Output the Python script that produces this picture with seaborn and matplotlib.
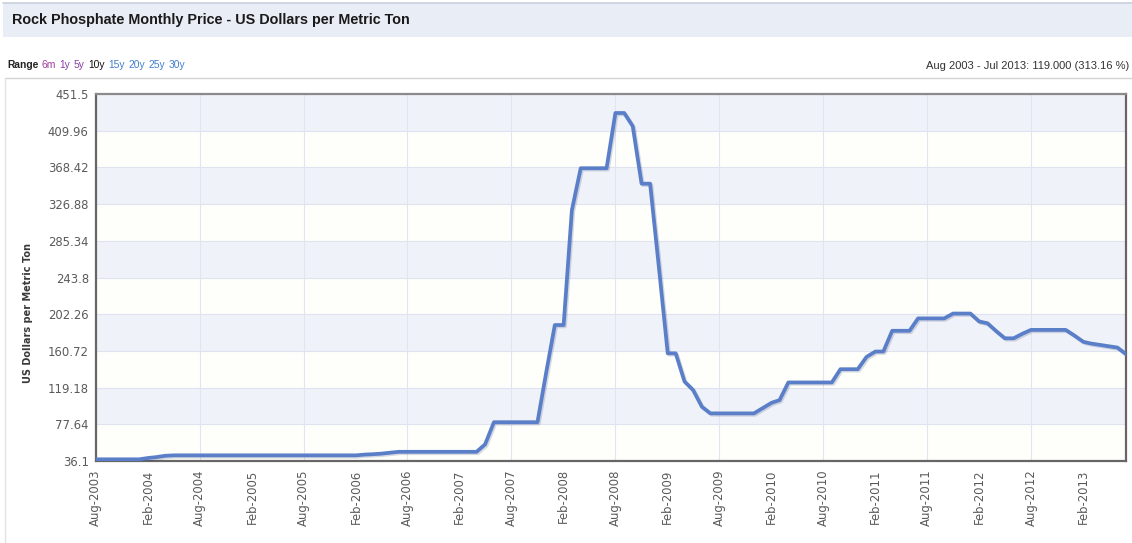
import numpy as np
import pandas as pd
import matplotlib
matplotlib.use("Agg")
import matplotlib.pyplot as plt
import matplotlib.dates as mdates
import matplotlib.patheffects as pe
from matplotlib.patches import Rectangle
import seaborn as sns

# Monthly rock phosphate price, Aug 2003 - Jul 2013 (US$ per metric ton)
months = pd.date_range("2003-08-01", "2013-07-01", freq="MS")
price = (
    [38.0] * 6
    + [39.5, 40.5, 42.0]
    + [42.5] * 22
    + [43.3, 43.8, 44.4, 45.5]
    + [46.5] * 10
    + [55.0]
    + [80.0] * 6
    + [135.0, 190.0, 190.0, 320.0]
    + [367.5] * 4
    + [430.0, 430.0, 415.0, 350.0, 350.0, 255.0, 158.0, 158.0, 126.0, 116.5, 97.5]
    + [90.0] * 6
    + [96.0, 102.0, 105.0]
    + [125.0] * 6
    + [140.0] * 3
    + [154.0, 160.0, 160.0]
    + [183.5] * 3
    + [197.5] * 4
    + [203.0] * 3
    + [194.0, 192.0, 183.0, 175.0, 175.0, 180.0]
    + [184.5] * 5
    + [178.0, 171.0, 169.0, 167.5, 166.0, 164.5, 157.0]
)
y_ticks = np.linspace(36.1, 451.5, 11)

title = "Rock Phosphate Monthly Price - US Dollars per Metric Ton"
y_label = "US Dollars per Metric Ton"
range_items = [("Range", "#222222", "bold"), ("6m", "#a03a9a", "normal"),
               ("1y", "#8a3ca8", "normal"), ("5y", "#8a3ca8", "normal"),
               ("10y", "#111111", "normal"), ("15y", "#3f7fcf", "normal"),
               ("20y", "#3f7fcf", "normal"), ("25y", "#3f7fcf", "normal"),
               ("30y", "#3f7fcf", "normal")]
summary = "Aug 2003 - Jul 2013: 119.000 (313.16 %)"

df = pd.DataFrame({"month": months, "price": price})

sns.set_theme(style="white")
plt.rcParams["font.family"] = ["DejaVu Sans"]

W, H = 1132, 543
fig = plt.figure(figsize=(W / 100, H / 100), dpi=100)
fig.patch.set_facecolor("white")


def fx(px):
    return px / W


def fy(py):
    return 1 - py / H


# header bar
fig.patches.append(Rectangle((fx(3), fy(37)), 1, (37 - 3) / H, transform=fig.transFigure,
                             facecolor="#e9edf5", edgecolor="none", zorder=0))
fig.lines.append(plt.Line2D([fx(3), 1], [fy(3), fy(3)], transform=fig.transFigure,
                            color="#c9d0dd", lw=1.2))
fig.text(fx(12), fy(20), title, fontsize=10.4, fontweight="bold", color="#1a1a1a",
         family="Liberation Sans", va="center", ha="left")

# panel border
fig.lines.append(plt.Line2D([fx(5), 1], [fy(78), fy(78)], transform=fig.transFigure,
                            color="#d4d4d4", lw=1.0))
fig.lines.append(plt.Line2D([fx(5), fx(5)], [fy(78), 0], transform=fig.transFigure,
                            color="#e2e2e2", lw=1.0))

# range selector row
renderer = fig.canvas.get_renderer()
x_cursor = fx(7)
for word, col, weight in range_items:
    t = fig.text(x_cursor, fy(65), word, fontsize=7.4, color=col, fontweight=weight,
                 family="Liberation Sans", va="center", ha="left")
    bb = t.get_window_extent(renderer=renderer)
    x_cursor += bb.width / W + fx(3.5)

fig.text(fx(1129), fy(66), summary, fontsize=8, color="#333333",
         family="Liberation Sans", va="center", ha="right")

# plot area
ax = fig.add_axes([fx(95.7), fy(461), fx(1126 - 95.7), (461 - 94) / H])
ax.set_facecolor("white")

for k in range(len(y_ticks) - 1):
    if (len(y_ticks) - 2 - k) % 2 == 0:
        ax.axhspan(y_ticks[k], y_ticks[k + 1], color="#f0f2f9", zorder=0, lw=0)
    else:
        ax.axhspan(y_ticks[k], y_ticks[k + 1], color="#fefefb", zorder=0, lw=0)

sns.lineplot(data=df, x="month", y="price", ax=ax, color="#5a7fc8", linewidth=2.7,
             zorder=3, path_effects=[pe.SimpleLineShadow(offset=(1, -1), alpha=0.18,
                                                         shadow_color="#22336a"),
                                     pe.Normal()])

ax.set_xlim(months[0], months[-1])
ax.set_ylim(y_ticks[0], y_ticks[-1])

ax.set_yticks(y_ticks)
ax.set_yticklabels([f"{v:.2f}".rstrip("0").rstrip(".") for v in y_ticks])

ax.xaxis.set_major_locator(mdates.MonthLocator(bymonth=8))
ax.xaxis.set_minor_locator(mdates.MonthLocator(bymonth=2))
ax.xaxis.set_major_formatter(mdates.DateFormatter("%b-%Y"))
ax.xaxis.set_minor_formatter(mdates.DateFormatter("%b-%Y"))

ax.tick_params(axis="x", which="both", labelsize=8.4, labelcolor="#5a5a5a",
               labelrotation=90, length=0, pad=6)
ax.tick_params(axis="y", labelsize=8.4, labelcolor="#5a5a5a", length=0, pad=5)

ax.grid(True, axis="y", color="#dfe2ef", lw=0.8, zorder=1)
ax.grid(True, axis="x", which="major", color="#e2e4f2", lw=0.8, zorder=1)
ax.grid(False, axis="x", which="minor")
ax.set_axisbelow(True)

ax.set_xlabel("")
ax.set_ylabel(y_label, fontsize=7, fontweight="bold", color="#3a3a3a")
ax.yaxis.set_label_coords((33 - 95.7) / (1126 - 95.7), (461 - 313) / (461 - 94))

for side, sp in ax.spines.items():
    sp.set_visible(True)
    sp.set_color("#666666")
    sp.set_linewidth(1.6)
ax.spines["top"].set_color("#8a8a8a")

fig.savefig("out.png", dpi=100)
